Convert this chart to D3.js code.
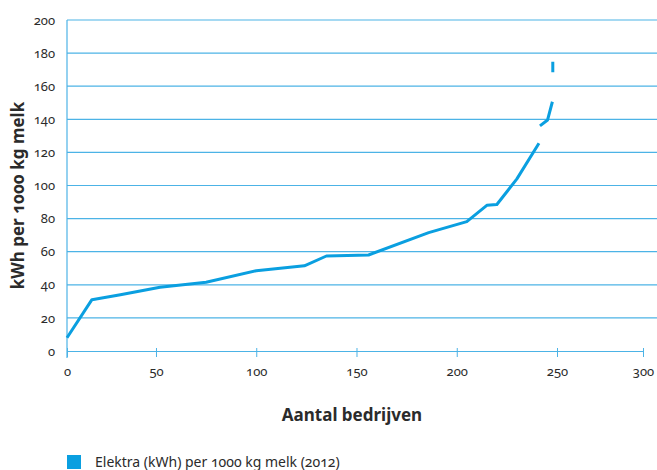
<!DOCTYPE html>
<html>
<head>
<meta charset="utf-8">
<script src="https://cdn.jsdelivr.net/npm/d3@7"></script>
<style>
  html, body { margin: 0; padding: 0; background: #fff; }
  svg text { font-family: "Noto Sans", "Open Sans", sans-serif; font-variant-numeric: oldstyle-nums; fill: #2b2b2b; }
</style>
</head>
<body>
<svg id="chart" width="657" height="470"></svg>
<script>
// ---- data ----
const bedrijven = [0, 14, 30, 52, 75, 100, 124, 135, 156, 186, 205, 215, 220, 230, 241, 241, 241.5, 245.3, 247.7, 247.8, 247.9, 247.9];
const kwhPer1000kg = [8, 31, 34, 38.5, 41.5, 48.5, 51.5, 57.4, 58, 71.5, 78.2, 88, 88.5, 104, 125.5, null, 136, 139.6, 150.6, null, 168.4, 174.8];
const xTicks = [0, 50, 100, 150, 200, 250, 300];
const yTicks = [0, 20, 40, 60, 80, 100, 120, 140, 160, 180, 200];
const seriesName = "Elektra (kWh) per 1000 kg melk (2012)";
const xTitle = "Aantal bedrijven";
const yTitle = "kWh per 1000 kg melk";

// ---- layout ----
const W = 657, H = 470;
const m = { left: 67, right: 14, top: 20, bottom: 119 };
const plotW = W - m.left - m.right;   // 576
const plotH = H - m.top - m.bottom;   // 331
const lineColor = "#0a9fe0";
const gridColor = "#4cb3e6";

const svg = d3.select("#chart");

// x scale (the original axis is slightly compressed at its two ends)
const x = d3.scaleLinear()
  .domain([0, 50, 250, 300])
  .range([m.left, m.left + plotW * 0.1545, m.left + plotW * 0.8507, m.left + plotW]);
const y = d3.scaleLinear().domain([0, 200]).range([m.top + plotH, m.top]);

// gridlines
svg.append("g").selectAll("line")
  .data(yTicks.filter(d => d > 0))
  .join("line")
  .attr("x1", m.left).attr("x2", W)
  .attr("y1", d => y(d)).attr("y2", d => y(d))
  .attr("stroke", gridColor).attr("stroke-width", 1.2);

// y axis
const yAxis = svg.append("g")
  .attr("transform", `translate(${m.left},0)`)
  .call(d3.axisLeft(y).tickValues(yTicks).tickSize(0).tickPadding(12).tickFormat(d3.format("d")));
yAxis.select(".domain").remove();
yAxis.selectAll("text").style("font-size", "13px").style("font-family", "'Noto Sans', sans-serif");
svg.append("line")
  .attr("x1", m.left).attr("x2", m.left)
  .attr("y1", y(200)).attr("y2", y(0) + 7)
  .attr("stroke", gridColor).attr("stroke-width", 1.2);

// x axis
const xAxis = svg.append("g")
  .attr("transform", `translate(0,${y(0)})`)
  .call(d3.axisBottom(x).tickValues(xTicks).tickSizeInner(6).tickSizeOuter(0).tickPadding(10).tickFormat(d3.format("d")));
xAxis.select(".domain").attr("stroke", gridColor).attr("stroke-width", 1.2);
xAxis.selectAll(".tick line").attr("stroke", gridColor).attr("y1", -3).attr("y2", 6);
xAxis.selectAll("text").style("font-size", "13px").style("font-family", "'Noto Sans', sans-serif");

// line
const pts = bedrijven.map((d, i) => ({ x: d, y: kwhPer1000kg[i] }));
const line = d3.line()
  .defined(d => d.y !== null)
  .x(d => x(d.x)).y(d => y(d.y));
svg.append("path")
  .datum(pts)
  .attr("d", line)
  .attr("fill", "none")
  .attr("stroke", lineColor)
  .attr("stroke-width", 3)
  .attr("stroke-linejoin", "round");

// axis titles
svg.append("text")
  .attr("x", 352).attr("y", 421)
  .attr("text-anchor", "middle")
  .style("font-size", "17px").style("font-weight", "bold")
  .text(xTitle);
svg.append("text")
  .attr("transform", `translate(24,${(y(0) + y(200)) / 2 + 10}) rotate(-90)`)
  .attr("text-anchor", "middle")
  .style("font-size", "17px").style("font-weight", "bold")
  .text(yTitle);

// legend
svg.append("rect")
  .attr("x", 67).attr("y", 455).attr("width", 14).attr("height", 14)
  .attr("fill", lineColor);
svg.append("text")
  .attr("x", 95).attr("y", 467)
  .style("font-size", "14px")
  .text(seriesName);
</script>
</body>
</html>
